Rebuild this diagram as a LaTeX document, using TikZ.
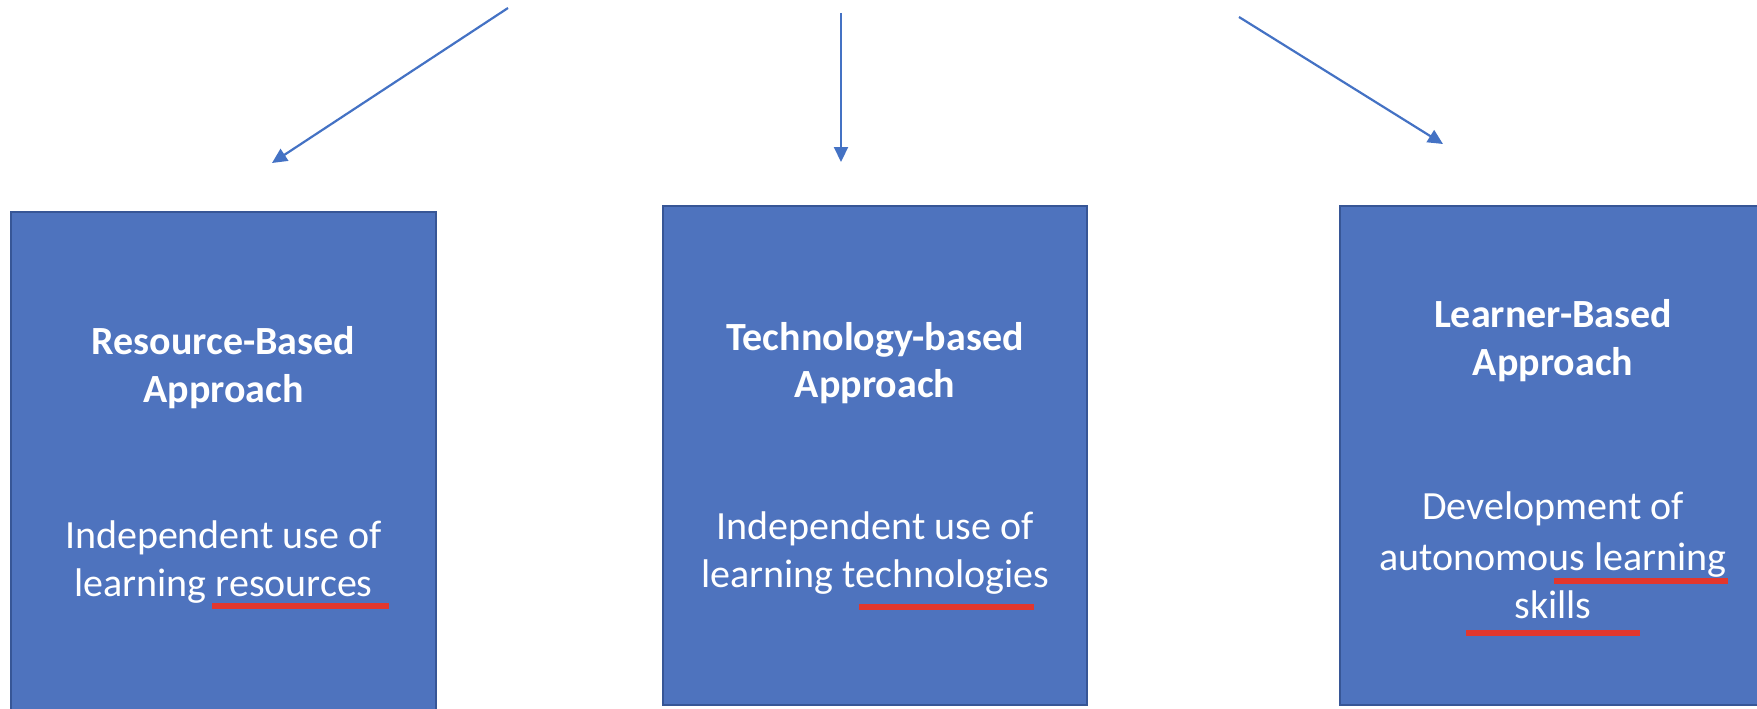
\documentclass[tikz,border=0pt]{standalone}
\usepackage{fontspec}
\setmainfont{Carlito}
\usetikzlibrary{arrows.meta}
\definecolor{boxfill}{RGB}{78,115,190}
\definecolor{boxline}{RGB}{55,86,150}
\definecolor{arrowblue}{RGB}{68,114,196}
\definecolor{ulred}{RGB}{226,55,45}
\begin{document}
\begin{tikzpicture}[x=1pt,y=-1pt,
  approachbox/.style={draw=boxline,line width=1.3pt,fill=boxfill},
  titleline/.style={anchor=base,inner sep=0pt,text=white,font=\fontsize{40}{48}\selectfont\bfseries},
  bodyline/.style={anchor=base,inner sep=0pt,text=white,font=\fontsize{40}{50}\selectfont},
  arrowline/.style={draw=arrowblue,line width=2.2pt,-{Triangle[length=15pt,width=14pt]}},
  redline/.style={draw=ulred,line width=6.5pt}]
\useasboundingbox (0,0) rectangle (1757,709);
% boxes
\path[approachbox] (11,212) rectangle (436,712);
\path[approachbox] (663,206) rectangle (1087,705);
\path[approachbox] (1340,206) rectangle (1767,705);
% box 1 texts
\node[titleline] (t1a) at (223.5,354) {Resource-Based};
\node[titleline] (t1b) at (223.5,402) {Approach};
\node[bodyline] (d1a) at (223.5,548) {Independent use of};
\node[bodyline] (d1b) at (223.5,596) {learning resources};
% box 2 texts
\node[titleline] (t2a) at (875,350) {Technology-based};
\node[titleline] (t2b) at (875,397) {Approach};
\node[bodyline] (d2a) at (875,539) {Independent use of};
\node[bodyline] (d2b) at (875,587) {learning technologies};
% box 3 texts
\node[titleline] (t3a) at (1553,327) {Learner-Based};
\node[titleline] (t3b) at (1553,375) {Approach};
\node[bodyline] (d3a) at (1553,519) {Development of};
\node[bodyline] (d3b) at (1553,570) {autonomous learning};
\node[bodyline] (d3c) at (1553,618) {skills};
% red underlines
\draw[redline] (212,606) -- (389,606);
\draw[redline] (859,607) -- (1034,607);
\draw[redline] (1554,581) -- (1728,581);
\draw[redline] (1466,633) -- (1640,633);
% arrows
\coordinate (a1s) at (508,8);
\coordinate (a1e) at (272,163);
\coordinate (a2s) at (841,13);
\coordinate (a2e) at (841,162);
\coordinate (a3s) at (1239,17);
\coordinate (a3e) at (1443,144);
\draw[arrowline] (a1s) -- (a1e);
\draw[arrowline] (a2s) -- (a2e);
\draw[arrowline] (a3s) -- (a3e);
\end{tikzpicture}
\end{document}
